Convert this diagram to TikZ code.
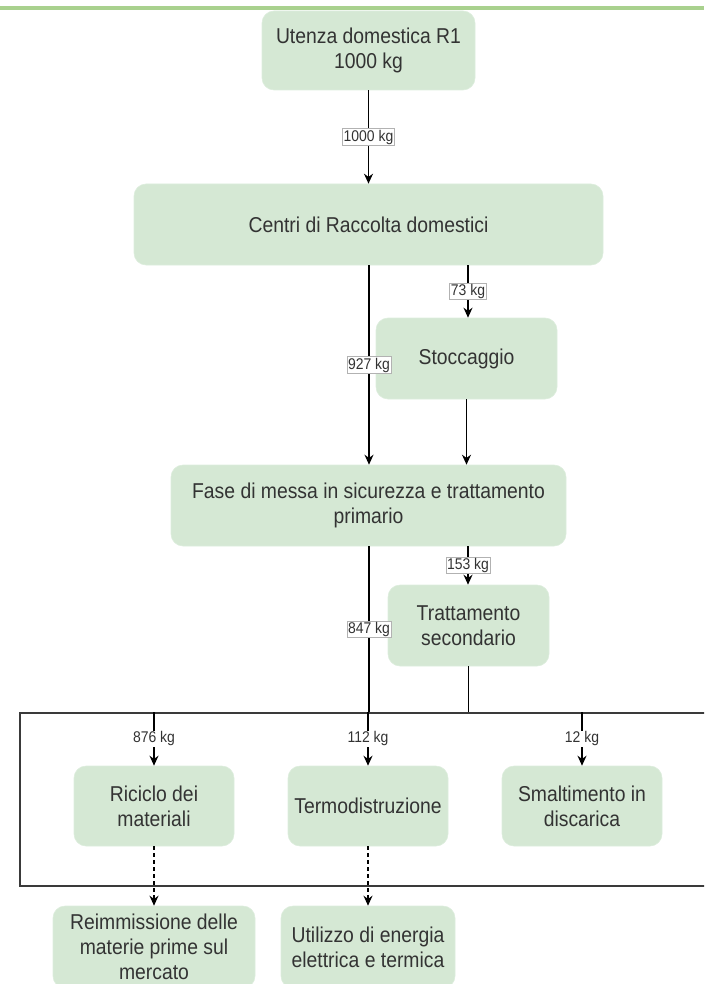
\documentclass[tikz,border=0pt]{standalone}
\usepackage{fontspec}
\setmainfont[FakeStretch=0.9]{Liberation Sans}
\usetikzlibrary{arrows.meta,calc}
\definecolor{boxfill}{HTML}{D5E8D4}
\definecolor{txt}{HTML}{333333}
\definecolor{topline}{HTML}{A9D18E}
\definecolor{frame}{HTML}{3A3A3A}
\begin{document}
\begin{tikzpicture}[x=1pt,y=-1pt,
  box/.style={fill=boxfill, draw=boxfill!80!white, line width=0.6pt, rounded corners=12pt, align=center, text=txt,
    font=\fontsize{21.5}{25}\selectfont, inner sep=0pt},
  flow/.style={draw=black, line width=1.4pt, -{Stealth[length=10pt,width=9pt]}},
  plain/.style={draw=black, line width=1.4pt},
  dflow/.style={draw=black, line width=1.1pt, dashed, dash pattern=on 4pt off 3pt, -{Stealth[length=10pt,width=9pt]}},
  lbl/.style={fill=white, draw=gray!60, line width=0.6pt, inner sep=1.2pt, text=txt,
    font=\fontsize{15.5}{16}\selectfont},
  lblb/.style={fill=white, inner sep=1.2pt, text=txt, font=\fontsize{15.5}{16}\selectfont}]
\useasboundingbox (0,0) rectangle (704,984);
\clip (0,0) rectangle (704,984);
\draw[topline, line width=4pt] (0,8.5) -- (704,8.5);

\node[box, minimum width=213pt, minimum height=79pt] (u) at (368.5,50.5) {Utenza domestica R1\\1000 kg};
\node[box, minimum width=469pt, minimum height=81pt] (c) at (368.5,224.5) {Centri di Raccolta domestici};
\node[box, minimum width=181pt, minimum height=81pt] (s) at (466.5,358.5) {Stoccaggio};
\node[box, minimum width=395pt, minimum height=81pt] (f) at (368.5,505.5) {Fase di messa in sicurezza e trattamento\\primario};
\node[box, minimum width=161pt, minimum height=81pt] (t) at (468.5,625.5) {Trattamento\\secondario};

\node[draw=frame, line width=1.6pt, minimum width=692pt, minimum height=173pt, inner sep=0pt] (grp) at (366,799.5) {};

\node[box, minimum width=160pt, minimum height=80pt] (r) at (154,806) {Riciclo dei\\materiali};
\node[box, minimum width=160pt, minimum height=80pt] (te) at (368,806) {Termodistruzione};
\node[box, minimum width=160pt, minimum height=80pt] (sm) at (582,806) {Smaltimento in\\discarica};
\node[box, minimum width=202pt, minimum height=82pt] (re) at (154,947) {Reimmissione delle\\materie prime sul\\mercato};
\node[box, minimum width=174pt, minimum height=82pt] (ut) at (368,947) {Utilizzo di energia\\elettrica e termica};

\coordinate (cA) at ($(c.south)+(0.5,0)$);
\coordinate (cB) at (468,265);
\coordinate (fA) at ($(f.south)+(0.5,0)$);
\coordinate (fB) at (468,546);

\draw[flow] (u.south) -- node[lbl]{1000 kg} (c.north);
\draw[flow] (cA) -- node[lbl]{927 kg} (cA |- f.north);
\draw[flow] (cB) -- node[lbl]{73 kg} (cB |- s.north);
\draw[flow] (s.south) -- (s.south |- f.north);
\draw[plain] (fA) -- node[lbl]{847 kg} (fA |- grp.north);
\draw[flow] (fB) -- node[lbl]{153 kg} (fB |- t.north);
\draw[plain] (t.south) -- (t.south |- grp.north);

\draw[flow] (r.north |- grp.north) -- node[lblb]{876 kg} (r.north);
\draw[flow] (te.north |- grp.north) -- node[lblb]{112 kg} (te.north);
\draw[flow] (sm.north |- grp.north) -- node[lblb]{12 kg} (sm.north);

\draw[dflow] (r.south) -- (re.north);
\draw[dflow] (te.south) -- (ut.north);
\end{tikzpicture}
\end{document}
